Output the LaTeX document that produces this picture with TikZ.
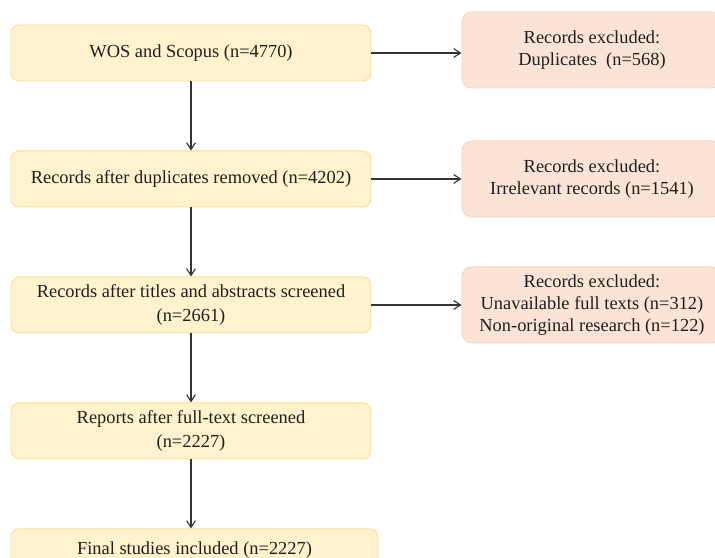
\documentclass[tikz,border=0pt]{standalone}
\usepackage{fontspec}
\setmainfont{Liberation Serif}
\usepackage{xcolor}
\usepackage{tikz}
\usetikzlibrary{positioning, arrows.meta}
\definecolor{stagefill}{HTML}{FFF2CC}
\definecolor{stageline}{HTML}{F8E29B}
\definecolor{exclfill}{HTML}{FBE4D6}
\definecolor{exclline}{HTML}{F6D5C2}
\definecolor{flowgray}{HTML}{333333}

\begin{document}
\begin{tikzpicture}[node distance=1.725cm, text=black!88,
  stage/.style={draw=stageline, fill=stagefill, line width=0.7pt, rounded corners=0.2cm, minimum width=9cm, minimum height=1.4cm, align=center, inner sep=0pt, font=\fontsize{13.1}{17.3}\selectfont},
  excl/.style={draw=exclline, fill=exclfill, line width=0.7pt, rounded corners=0.25cm, minimum width=6.5cm, minimum height=1.9cm, align=center, inner sep=0pt, font=\fontsize{13.1}{15.4}\selectfont},
  flow/.style={draw=flowgray, line width=0.8pt, -{Straight Barb[length=1.7mm, width=2.2mm]}}]
\useasboundingbox (0,0) rectangle (17.875,-13.95);

\node[stage] (wos) at (4.775,-1.325) {WOS and Scopus (n=4770)};
\node[stage, below=of wos] (dedup) {Records after duplicates removed (n=4202)};
\node[stage, below=of dedup] (screen) {Records after titles and abstracts screened \\ (n=2661)};
\node[stage, below=of screen] (report) {Reports after full-text screened \\ (n=2227)};
\node[stage, minimum width=9.175cm, minimum height=1.05cm, below=of report.south west, anchor=north west] (final) {Final studies included (n=2227)};

\node[excl, right=2.25cm of wos, yshift=0.075cm] (dup) {Records excluded: \\ Duplicates~~(n=568)};
\node[excl, right=2.25cm of dedup] (irrel) {Records excluded: \\ Irrelevant records (n=1541)};
\node[excl, right=2.25cm of screen] (unavail) {Records excluded: \\ Unavailable full texts (n=312) \\ Non-original research (n=122)};

\draw[flow] (wos) -- (dedup);
\draw[flow] (dedup) -- (screen);
\draw[flow] (screen) -- (report);
\draw[flow] (report.south) -- (report.south |- final.north);

\draw[flow] (wos.east) -- (wos.east -| dup.west);
\draw[flow] (dedup.east) -- (dedup.east -| irrel.west);
\draw[flow] (screen.east) -- (screen.east -| unavail.west);
\end{tikzpicture}
\end{document}
